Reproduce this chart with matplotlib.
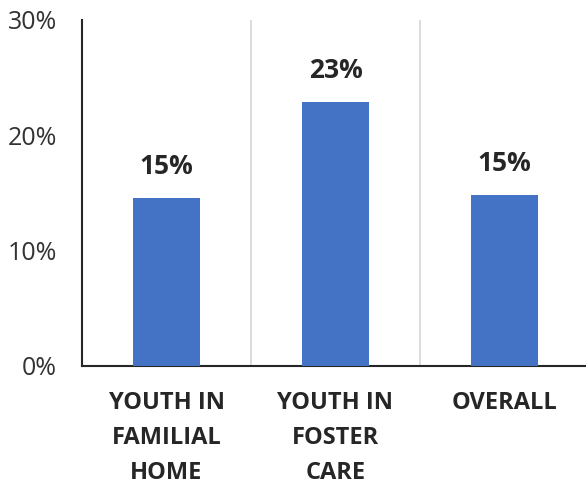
import matplotlib
matplotlib.use("Agg")
import matplotlib.pyplot as plt
from matplotlib.ticker import FuncFormatter

plt.rcParams['font.family'] = ['Open Sans', 'DejaVu Sans']

categories = ["YOUTH IN\nFAMILIAL\nHOME", "YOUTH IN\nFOSTER\nCARE", "OVERALL"]
values = [14.6, 22.9, 14.8]
y_ticks = [0, 10, 20, 30]

text_color = "#262626"
bar_color = "#4472C4"

fig = plt.figure(figsize=(5.86, 4.86), dpi=100)
ax = fig.add_axes([0.140, 0.247, 0.865, 0.712])

x = list(range(len(categories)))
bars = ax.bar(x, values, width=0.40, color=bar_color, zorder=3)

for xi, v in zip(x, values):
    ax.text(xi, v + 1.55, f"{round(v):.0f}%", ha="center", va="bottom",
            fontsize=19, fontweight="bold", color=text_color)

# separators between categories
for b in [0.5, 1.5]:
    ax.axvline(b, color="#d9d9d9", linewidth=1.3, zorder=1)

ax.set_xlim(-0.5, len(categories) - 0.5)
ax.set_ylim(0, 30)
ax.set_yticks(y_ticks)
ax.yaxis.set_major_formatter(FuncFormatter(lambda v, p: f"{v:.0f}%"))
ax.set_xticks(x)
ax.set_xticklabels(categories, fontsize=17, fontweight="bold", color=text_color,
                   linespacing=1.6)

ax.tick_params(axis="y", length=0, pad=18, labelsize=18, labelcolor="#333333")
ax.tick_params(axis="x", length=0, pad=18)

for side in ["top", "right"]:
    ax.spines[side].set_visible(False)
ax.spines["left"].set_color("#262626")
ax.spines["left"].set_linewidth(1.5)
ax.spines["bottom"].set_color("#262626")
ax.spines["bottom"].set_linewidth(1.5)

fig.savefig("out.png", dpi=100)
